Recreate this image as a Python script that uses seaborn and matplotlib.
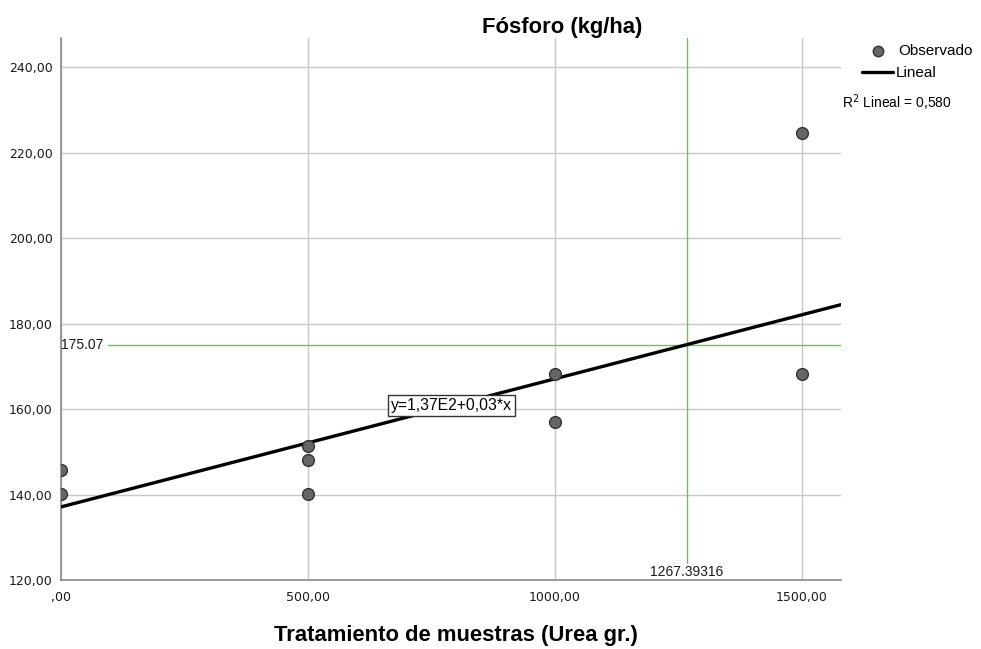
import numpy as np
import pandas as pd
import matplotlib
matplotlib.use("Agg")
import matplotlib.pyplot as plt
import seaborn as sns

# ---- data ----
urea = [0, 0, 500, 500, 500, 1000, 1000, 1500, 1500]
fosforo = [145.7, 140.1, 151.3, 148.1, 140.1, 168.2, 157.0, 224.6, 168.2]
intercept = 137.1
slope = 0.02997
r2 = 0.580
ref_x = 1267.39316
ref_y = 175.07
x_ticks = [0, 500, 1000, 1500]
x_ticklabels = [",00", "500,00", "1000,00", "1500,00"]
y_ticks = [120, 140, 160, 180, 200, 220, 240]
y_ticklabels = ["120,00", "140,00", "160,00", "180,00", "200,00", "220,00", "240,00"]
title = "Fósforo (kg/ha)"
xlabel = "Tratamiento de muestras (Urea gr.)"
equation = "y=1,37E2+0,03*x"

sns.set_style("white")
plt.rcParams['font.family'] = ['Liberation Sans', 'DejaVu Sans']
plt.rcParams['text.color'] = 'black'
ARIAL = ['Liberation Sans', 'DejaVu Sans']
TICKF = ['DejaVu Sans']

fig = plt.figure(figsize=(9.81, 6.49), dpi=100)
ax = fig.add_axes([61/981, 1-580/649, (841-61)/981, (580-38)/649])

xmin, xmax = 0, 1579
ymin, ymax = 120, 246.8
ax.set_xlim(xmin, xmax)
ax.set_ylim(ymin, ymax)

ax.set_xticks(x_ticks)
ax.set_xticklabels(x_ticklabels, fontsize=9, family=TICKF)
ax.set_yticks(y_ticks)
ax.set_yticklabels(y_ticklabels, fontsize=9, family=TICKF)
ax.tick_params(axis="x", length=0, pad=8, colors="#1a1a1a")
ax.tick_params(axis="y", length=0, pad=6, colors="#1a1a1a")
ax.grid(True, color="#c8c8c8", linewidth=1.0)
ax.set_axisbelow(True)
for s in ["top", "right"]:
    ax.spines[s].set_visible(False)
for s in ["left", "bottom"]:
    ax.spines[s].set_color("#8a8a8a")
    ax.spines[s].set_linewidth(1.2)

# reference lines
ax.axhline(ref_y, xmin=(108 - 61) / 780, color="#66cc33", linewidth=1.0, zorder=1.5)
ax.axvline(ref_x, ymin=(580 - 563) / 542, color="#66cc33", linewidth=1.0, zorder=1.5)
ax.text(1, ref_y, f"{ref_y:.2f}", fontsize=10, va="center", ha="left", color="#1a1a1a", family=ARIAL)
ax.text(ref_x, ymin + 0.3, f"{ref_x:.5f}", fontsize=10, va="bottom", ha="center", color="#1a1a1a", family=ARIAL)

# fit line
fit_df = pd.DataFrame({"x": [xmin, xmax]})
fit_df["y"] = intercept + slope * fit_df["x"]
sns.lineplot(data=fit_df, x="x", y="y", ax=ax, color="black", linewidth=2.4, zorder=3)

# observed
obs = pd.DataFrame({"x": urea, "y": fosforo})
sns.scatterplot(data=obs, x="x", y="y", ax=ax, s=72, color="#666666",
                edgecolor="#333333", linewidth=1.0, zorder=4)

ax.set_xlabel("")
ax.set_ylabel("")

# equation box
ax.text(791, 160.9, equation, fontsize=11.3, ha="center", va="center", zorder=5, family=ARIAL,
        bbox=dict(boxstyle="square,pad=0.2", facecolor="white", edgecolor="#333333", linewidth=1.0))

# titles
fig.text(562/981, 1-27/649, title, fontsize=15.8, fontweight="bold", ha="center", va="center", family=ARIAL)
fig.text(456/981, 1-635/649, xlabel, fontsize=15.8, fontweight="bold", ha="center", va="center", family=ARIAL)

# legend (manual)
lax_y = 1 - 51/649
fig.lines.append(plt.Line2D([878/981], [lax_y], marker="o", markersize=7.5,
                            markerfacecolor="#666666", markeredgecolor="#333333",
                            transform=fig.transFigure, linestyle="none"))
fig.text(898/981, lax_y, "Observado", fontsize=11, ha="left", va="center", family=ARIAL)
fig.lines.append(plt.Line2D([862/981, 893/981], [1-72/649, 1-72/649], color="black",
                            linewidth=2.4, transform=fig.transFigure))
fig.text(896/981, 1-73/649, "Lineal", fontsize=11, ha="left", va="center", family=ARIAL)
fig.text(842/981, 1-103/649, r"R$^{2}$ Lineal = " + f"{r2:.3f}".replace(".", ","),
         fontsize=10, ha="left", va="center", family=ARIAL)

fig.savefig("out.png", dpi=100)
